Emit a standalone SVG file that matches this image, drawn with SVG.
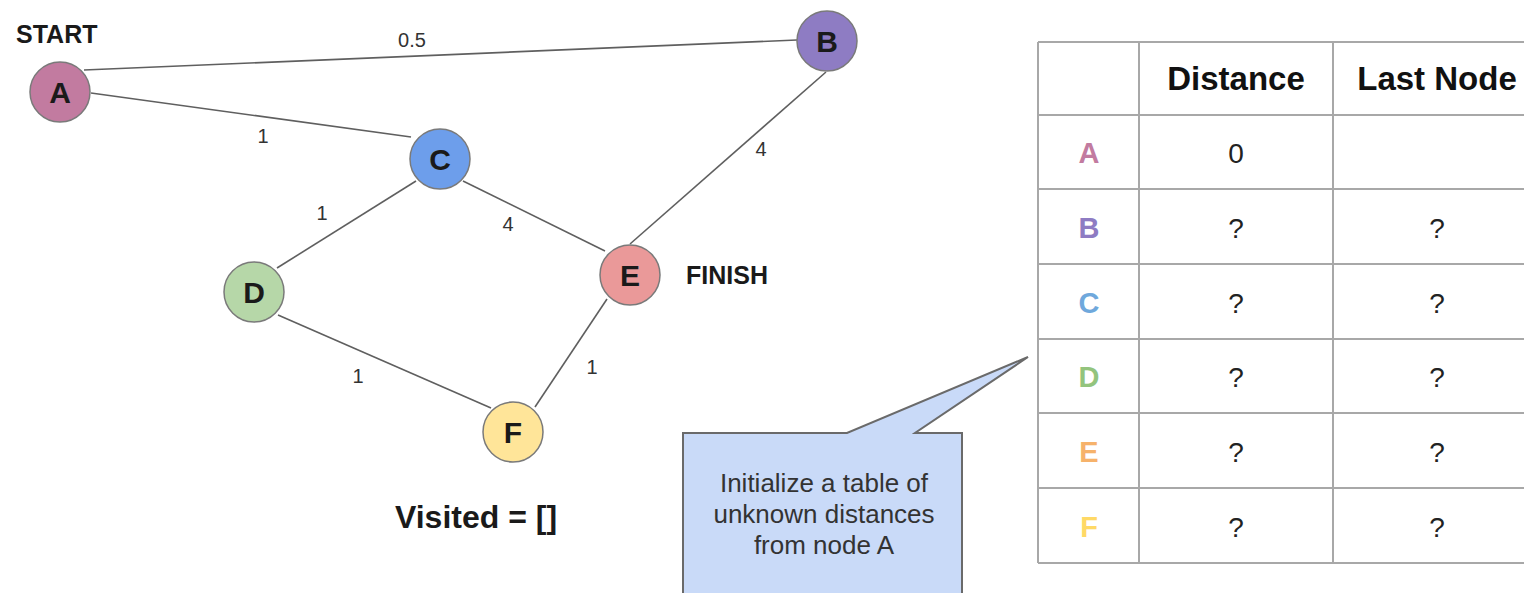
<svg xmlns="http://www.w3.org/2000/svg" width="1524" height="593" viewBox="0 0 1524 593">
  <style>
    .edge { stroke: #5f5f5f; stroke-width: 1.6; fill: none; }
    .wt { font-family: "Liberation Sans", Arial, sans-serif; font-size: 20px; fill: #333333; text-anchor: middle; }
    .node circle { stroke: #7a7a7a; stroke-width: 1.5; }
    .node text { font-family: "Liberation Sans", Arial, sans-serif; font-size: 30px; font-weight: bold; fill: #1a1a1a; text-anchor: middle; }
    .tag { font-family: "Liberation Sans", Arial, sans-serif; font-size: 25px; font-weight: bold; fill: #1a1a1a; }
    .grid { stroke: #a8a8a8; stroke-width: 2; fill: none; }
    .hdr { font-family: "Liberation Sans", Arial, sans-serif; font-size: 33px; font-weight: bold; fill: #111111; text-anchor: middle; }
    .cell { font-family: "Liberation Sans", Arial, sans-serif; font-size: 28px; fill: #222222; text-anchor: middle; }
    .rowkey { font-family: "Liberation Sans", Arial, sans-serif; font-size: 29px; font-weight: bold; text-anchor: middle; }
    .note { font-family: "Liberation Sans", Arial, sans-serif; font-size: 26px; fill: #333333; text-anchor: middle; }
  </style>

  <rect width="1524" height="593" fill="#ffffff"/>

  <!-- weighted edges -->
  <g id="connectors">
    <line class="edge" x1="84" y1="70" x2="797" y2="40"/>
    <line class="edge" x1="91" y1="93" x2="411" y2="137"/>
    <line class="edge" x1="463" y1="181" x2="605" y2="251"/>
    <line class="edge" x1="826" y1="72" x2="630" y2="244"/>
    <line class="edge" x1="416" y1="181" x2="277" y2="268"/>
    <line class="edge" x1="278" y1="315" x2="491" y2="408"/>
    <line class="edge" x1="607" y1="299" x2="535" y2="407"/>
    <text class="wt" x="412" y="47">0.5</text>
    <text class="wt" x="263" y="143">1</text>
    <text class="wt" x="761" y="156">4</text>
    <text class="wt" x="508" y="231">4</text>
    <text class="wt" x="322" y="220">1</text>
    <text class="wt" x="358" y="383">1</text>
    <text class="wt" x="592" y="374">1</text>
  </g>

  <g id="node-A" class="node"><circle cx="60" cy="92" r="30" fill="#c27ba0"/><text x="60" y="103">A</text></g>
  <g id="node-B" class="node"><circle cx="827" cy="41" r="30" fill="#8e7cc3"/><text x="827" y="52">B</text></g>
  <g id="node-C" class="node"><circle cx="440" cy="159" r="30" fill="#6d9eeb"/><text x="440" y="170">C</text></g>
  <g id="node-D" class="node"><circle cx="254" cy="292" r="30" fill="#b6d7a8"/><text x="254" y="303">D</text></g>
  <g id="node-E" class="node"><circle cx="630" cy="275" r="30" fill="#ea9999"/><text x="630" y="286">E</text></g>
  <g id="node-F" class="node"><circle cx="513" cy="432" r="30" fill="#ffe599"/><text x="513" y="443">F</text></g>

  <text class="tag" x="16" y="43">START</text>
  <text class="tag" x="686" y="284">FINISH</text>
  <text x="476" y="528" font-family="Liberation Sans, Arial, sans-serif" font-size="32" font-weight="bold" fill="#1a1a1a" text-anchor="middle">Visited = []</text>

  <!-- speech bubble -->
  <g id="callout">
    <path d="M683,433 L847,433 L1028,357 L915,433 L962,433 L962,600 L683,600 Z" fill="#c9daf8" stroke="#6a6a6a" stroke-width="2" stroke-linejoin="miter"/>
    <text class="note" x="824" y="492">Initialize a table of</text>
    <text class="note" x="824" y="523">unknown distances</text>
    <text class="note" x="824" y="554">from node A</text>
  </g>

  <!-- distance table -->
  <g id="table">
    <path class="grid" d="M1038,42 H1530 M1038,115 H1530 M1038,189 H1530 M1038,264 H1530 M1038,339 H1530 M1038,413 H1530 M1038,488 H1530 M1038,563 H1530 M1038,42 V563 M1139,42 V563 M1333,42 V563"/>
    <text class="hdr" x="1236" y="90">Distance</text>
    <text class="hdr" x="1437" y="90">Last Node</text>

    <text class="rowkey" x="1089" y="163" fill="#c27ba0">A</text>
    <text class="rowkey" x="1089" y="238" fill="#8e7cc3">B</text>
    <text class="rowkey" x="1089" y="313" fill="#6fa8dc">C</text>
    <text class="rowkey" x="1089" y="387" fill="#93c47d">D</text>
    <text class="rowkey" x="1089" y="462" fill="#f6b26b">E</text>
    <text class="rowkey" x="1089" y="537" fill="#ffd966">F</text>

    <text class="cell" x="1236" y="163">0</text>
    <text class="cell" x="1236" y="238">?</text>
    <text class="cell" x="1437" y="238">?</text>
    <text class="cell" x="1236" y="313">?</text>
    <text class="cell" x="1437" y="313">?</text>
    <text class="cell" x="1236" y="387">?</text>
    <text class="cell" x="1437" y="387">?</text>
    <text class="cell" x="1236" y="462">?</text>
    <text class="cell" x="1437" y="462">?</text>
    <text class="cell" x="1236" y="537">?</text>
    <text class="cell" x="1437" y="537">?</text>
  </g>
</svg>
